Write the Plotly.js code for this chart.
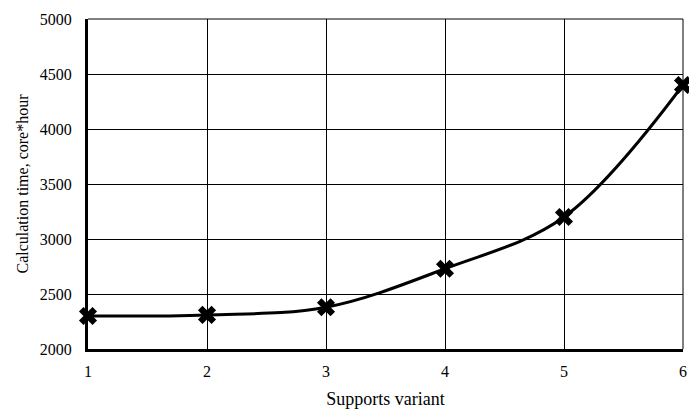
<!DOCTYPE html>
<html>
<head>
<meta charset="utf-8">
<script src="https://cdn.plot.ly/plotly-3.0.1.min.js"></script>
<style>html,body{margin:0;padding:0;background:#fff;}#chart{width:689px;height:409px;}</style>
</head>
<body>
<div id="chart"></div>
<script>
const variants = [1, 2, 3, 4, 5, 6];
const calcTime = [2300, 2310, 2380, 2730, 3200, 4400];
const xTitle = 'Supports variant';
const yTitle = 'Calculation time, core*hour';

const trace = {
  x: variants,
  y: calcTime,
  type: 'scatter',
  mode: 'lines+markers',
  line: {color: '#000', width: 3, shape: 'spline', smoothing: 1},
  marker: {symbol: 'x', size: 16, color: '#000'},
  cliponaxis: false,
  hoverinfo: 'skip'
};

const fam = 'Liberation Serif, Times New Roman, serif';
const tickFont = {family: fam, color: '#000', size: 16};
const xTitleFont = {family: fam, color: '#000', size: 18};
const yTitleFont = {family: fam, color: '#000', size: 16};

const layout = {
  width: 689, height: 409,
  margin: {l: 88, r: 6, t: 19, b: 60},
  paper_bgcolor: '#fff', plot_bgcolor: '#fff',
  showlegend: false,
  font: tickFont,
  xaxis: {
    range: [1, 6], tickvals: variants, ticktext: variants.map(String),
    showgrid: true, gridcolor: '#000', gridwidth: 1,
    showline: true, linecolor: '#000', linewidth: 3,
    ticks: 'outside', ticklen: 6, tickcolor: 'rgba(0,0,0,0)', zeroline: false,
    tickfont: tickFont,
    title: {text: xTitle, font: xTitleFont, standoff: 14}
  },
  yaxis: {
    range: [2000, 5000], dtick: 500, tick0: 2000,
    showgrid: true, gridcolor: '#000', gridwidth: 1,
    showline: true, linecolor: '#000', linewidth: 3,
    ticks: 'outside', ticklen: 10, tickcolor: 'rgba(0,0,0,0)', zeroline: false,
    tickfont: tickFont,
    title: {text: yTitle, font: yTitleFont, standoff: 8}
  },
  shapes: [
    {type: 'line', xref: 'paper', yref: 'paper', x0: 0, x1: 1, y0: 1, y1: 1, line: {color: '#000', width: 1}},
    {type: 'line', xref: 'paper', yref: 'paper', x0: 1, x1: 1, y0: 0, y1: 1, line: {color: '#000', width: 1}}
  ]
};

Plotly.newPlot('chart', [trace], layout, {displayModeBar: false, staticPlot: true});
</script>
</body>
</html>
